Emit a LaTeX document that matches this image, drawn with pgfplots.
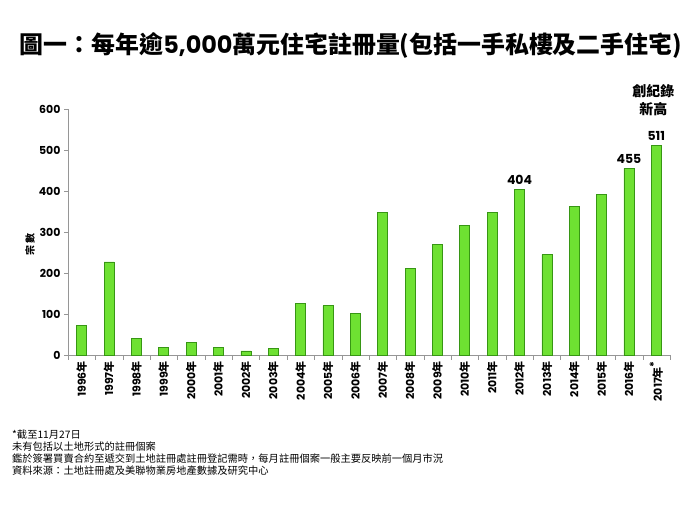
\documentclass[border=0pt]{standalone}
\usepackage{pgfplots}
\pgfplotsset{compat=1.18}
\usepackage{fontspec}
\setmainfont{Poppins}
\newfontfamily\cjk{Noto Sans CJK TC}
\definecolor{barfill}{RGB}{110,225,50}
\definecolor{barline}{RGB}{55,150,20}
\definecolor{axgray}{RGB}{150,150,150}

\begin{document}
\begin{tikzpicture}[x=1bp,y=1bp]
\path[use as bounding box] (0,0) rectangle (700,525);

% title
\node[font=\fontsize{24}{28}\selectfont\bfseries] at (351,480)
  {\cjk 圖一：每年逾\rmfamily 5,000\cjk 萬元住宅註冊量(包括一手私樓及二手住宅)};

\begin{axis}[
  at={(68bp,170bp)}, anchor=south west,
  scale only axis, width=602bp, height=246bp,
  xmin=-0.5, xmax=21.5, ymin=0, ymax=600,
  axis lines*=left,
  axis line style={axgray, line width=0.6pt},
  ytick={0,100,...,600},
  yticklabel style={font=\fontsize{11}{13}\selectfont\bfseries},
  /pgf/number format/assume math mode=true,
  ytick style={axgray},
  tick align=outside,
  major tick length=4bp,
  xtick={0,...,21},
  major x tick style={draw=none},
  minor xtick={-0.5,0.5,...,21.5},
  minor x tick style={axgray},
  minor tick length=5bp,
  xticklabels={1996{\cjk 年},1997{\cjk 年},1998{\cjk 年},1999{\cjk 年},2000{\cjk 年},2001{\cjk 年},2002{\cjk 年},2003{\cjk 年},2004{\cjk 年},2005{\cjk 年},2006{\cjk 年},2007{\cjk 年},2008{\cjk 年},2009{\cjk 年},2010{\cjk 年},2011{\cjk 年},2012{\cjk 年},2013{\cjk 年},2014{\cjk 年},2015{\cjk 年},2016{\cjk 年},2017{\cjk 年}\raisebox{4bp}{*}},
  xticklabel style={rotate=90, anchor=east, font=\fontsize{11}{13}\selectfont\bfseries, inner sep=2bp},
  ylabel={\cjk 宗\,數},
  ylabel style={font=\fontsize{10}{12}\selectfont\bfseries, at={(axis description cs:-0.063,0.45)}, anchor=center},
  clip=false,
  nodes near coords,
  point meta=explicit symbolic,
  every node near coord/.append style={font=\fontsize{12.5}{14}\selectfont\bfseries, yshift=1bp},
]
\addplot[ybar, bar width=10bp, draw=barline, line width=0.7pt, fill=barfill]
coordinates {
(0,72) []
(1,227) []
(2,40) []
(3,18) []
(4,31) []
(5,18) []
(6,10) []
(7,15) []
(8,126) []
(9,120) []
(10,102) []
(11,348) []
(12,212) []
(13,270) []
(14,315) []
(15,348) []
(16,404) [404]
(17,245) []
(18,363) []
(19,391) []
(20,455) [455]
(21,511) [511]
};
\node[font=\fontsize{14}{18}\selectfont\bfseries, align=center, anchor=south, xshift=-3bp]
  at (axis cs:21,575) {\cjk 創紀錄\\\cjk 新高};
\end{axis}

% notes
\node[anchor=north west, align=left, inner sep=0,
  font=\cjk\fontsize{10.3}{12}\selectfont] at (12,95)
  {*截至11月27日\\
   未有包括以土地形式的註冊個案\\
   鑑於簽署買賣合約至遞交到土地註冊處註冊登記需時，每月註冊個案一般主要反映前一個月市況\\
   資料來源：土地註冊處及美聯物業房地產數據及研究中心};
\end{tikzpicture}
\end{document}
